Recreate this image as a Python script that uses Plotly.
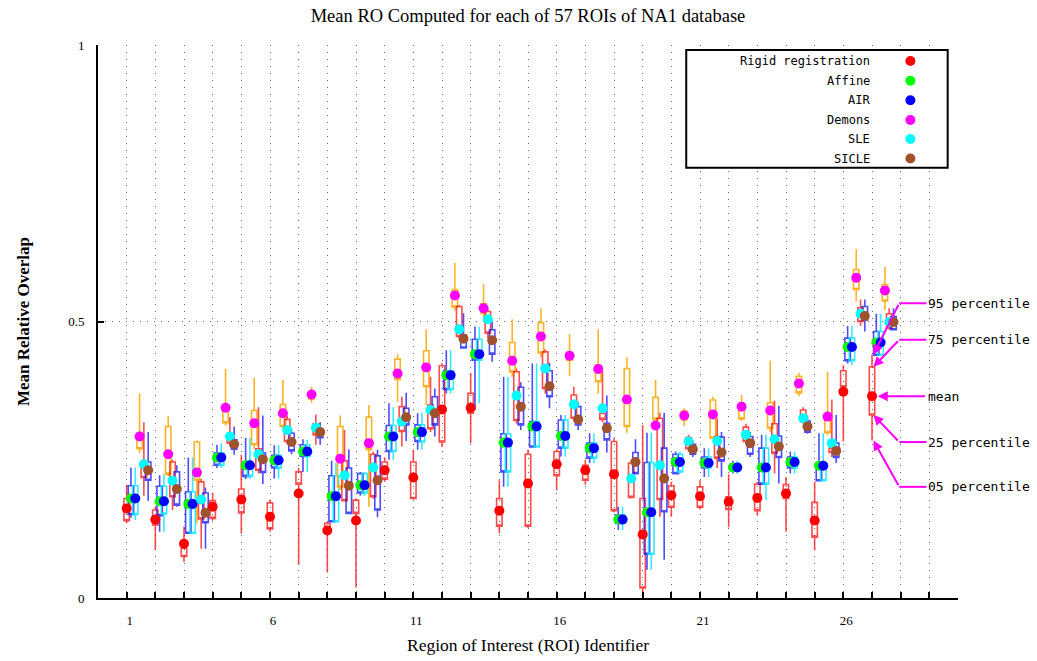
import plotly.graph_objects as go

rois = list(range(1, 28))
method_names = ["Rigid registration", "Affine", "AIR", "Demons", "SLE", "SICLE"]

# Rigid registration
rigid_mean = [0.162,0.142,0.098,0.165,0.178,0.147,0.189,0.122,0.140,0.231,0.218,0.341,0.344,0.158,0.207,0.242,0.231,0.224,0.115,0.186,0.184,0.174,0.181,0.189,0.140,0.373,0.365]
rigid_p05  = [0.135,0.087,0.065,0.140,0.116,0.120,0.060,0.046,0.019,0.210,0.178,0.273,0.280,0.117,0.126,0.195,0.205,0.155,0.003,0.147,0.160,0.128,0.149,0.120,0.087,0.283,0.285]
rigid_p25  = [0.140,0.132,0.075,0.144,0.154,0.125,0.206,0.124,0.153,0.215,0.180,0.282,0.334,0.130,0.130,0.221,0.213,0.158,0.018,0.164,0.164,0.160,0.158,0.180,0.110,0.382,0.331]
rigid_p75  = [0.180,0.159,0.090,0.176,0.197,0.172,0.228,0.135,0.177,0.246,0.246,0.420,0.370,0.180,0.260,0.265,0.240,0.283,0.180,0.203,0.201,0.183,0.206,0.205,0.173,0.411,0.418]
rigid_p95  = [0.205,0.165,0.129,0.190,0.259,0.178,0.235,0.138,0.180,0.254,0.268,0.425,0.407,0.213,0.268,0.270,0.250,0.289,0.313,0.210,0.213,0.224,0.210,0.219,0.210,0.421,0.440]

# Affine
affine_mean = [0.180,0.175,0.170,0.254,0.240,0.249,0.265,0.184,0.204,0.292,0.300,0.403,0.441,0.281,0.310,0.293,0.271,0.142,0.155,0.246,0.244,0.236,0.236,0.246,0.239,0.454,0.462]
affine_p05  = [0.145,0.120,0.117,0.235,0.215,0.216,0.228,0.138,0.185,0.250,0.268,0.370,0.340,0.201,0.273,0.256,0.244,0.123,0.051,0.225,0.219,0.225,0.206,0.225,0.212,0.424,0.439]
affine_p25  = [0.151,0.149,0.117,0.240,0.220,0.235,0.256,0.138,0.190,0.265,0.283,0.377,0.430,0.228,0.273,0.271,0.253,0.135,0.079,0.225,0.235,0.230,0.206,0.235,0.212,0.429,0.439]
affine_p75  = [0.203,0.202,0.192,0.262,0.246,0.258,0.277,0.221,0.225,0.312,0.313,0.411,0.468,0.297,0.319,0.322,0.280,0.150,0.245,0.260,0.255,0.242,0.271,0.255,0.244,0.470,0.482]
affine_p95  = [0.236,0.222,0.254,0.277,0.290,0.276,0.287,0.248,0.228,0.352,0.334,0.448,0.491,0.400,0.424,0.331,0.298,0.165,0.299,0.265,0.271,0.248,0.295,0.265,0.298,0.492,0.514]

# AIR
air_mean = [0.180,0.175,0.170,0.254,0.240,0.249,0.265,0.184,0.204,0.292,0.300,0.403,0.441,0.281,0.310,0.293,0.271,0.142,0.155,0.246,0.244,0.236,0.236,0.246,0.239,0.454,0.462]
air_p05  = [0.141,0.120,0.117,0.235,0.215,0.216,0.228,0.138,0.185,0.250,0.268,0.370,0.352,0.201,0.273,0.256,0.244,0.123,0.051,0.225,0.219,0.225,0.177,0.225,0.212,0.421,0.439]
air_p25  = [0.151,0.152,0.117,0.240,0.220,0.235,0.256,0.138,0.190,0.265,0.282,0.377,0.430,0.228,0.273,0.271,0.253,0.135,0.079,0.228,0.235,0.230,0.206,0.235,0.212,0.429,0.439]
air_p75  = [0.203,0.202,0.192,0.262,0.246,0.258,0.277,0.221,0.225,0.312,0.313,0.411,0.468,0.297,0.319,0.322,0.280,0.150,0.245,0.260,0.255,0.242,0.271,0.255,0.244,0.470,0.482]
air_p95  = [0.236,0.224,0.254,0.280,0.290,0.276,0.286,0.244,0.228,0.345,0.335,0.448,0.490,0.400,0.424,0.331,0.298,0.165,0.299,0.265,0.271,0.248,0.295,0.265,0.298,0.492,0.514]

# Demons
demons_mean = [0.292,0.260,0.227,0.344,0.316,0.334,0.368,0.252,0.280,0.406,0.417,0.547,0.524,0.429,0.473,0.438,0.414,0.359,0.312,0.330,0.332,0.346,0.339,0.388,0.328,0.579,0.556]
demons_p05  = [0.262,0.220,0.135,0.312,0.270,0.305,0.353,0.195,0.165,0.355,0.349,0.520,0.505,0.400,0.435,0.401,0.370,0.299,0.312,0.311,0.289,0.320,0.300,0.365,0.295,0.536,0.521]
demons_p25  = [0.270,0.224,0.213,0.317,0.277,0.310,0.360,0.201,0.268,0.395,0.382,0.526,0.515,0.409,0.443,0.430,0.391,0.310,0.323,0.322,0.289,0.324,0.307,0.371,0.299,0.558,0.537]
demons_p75  = [0.287,0.310,0.282,0.339,0.339,0.350,0.372,0.310,0.327,0.432,0.447,0.558,0.532,0.462,0.498,0.444,0.421,0.415,0.363,0.338,0.358,0.346,0.353,0.401,0.323,0.594,0.567]
demons_p95  = [0.370,0.329,0.285,0.414,0.398,0.394,0.382,0.330,0.349,0.441,0.486,0.606,0.568,0.504,0.524,0.477,0.486,0.435,0.394,0.343,0.364,0.367,0.429,0.407,0.409,0.631,0.599]

# SLE
sle_mean = [0.242,0.212,0.178,0.292,0.260,0.304,0.308,0.222,0.236,0.319,0.340,0.486,0.504,0.366,0.415,0.350,0.343,0.216,0.240,0.283,0.284,0.295,0.287,0.325,0.280,0.514,0.499]
sle_p05  = [0.185,0.159,0.089,0.275,0.225,0.278,0.277,0.176,0.180,0.274,0.300,0.470,0.470,0.315,0.370,0.320,0.318,0.180,0.147,0.265,0.235,0.278,0.225,0.315,0.255,0.492,0.485]
sle_p25  = [0.218,0.183,0.143,0.280,0.231,0.283,0.295,0.176,0.183,0.301,0.306,0.473,0.479,0.321,0.379,0.325,0.323,0.182,0.178,0.270,0.253,0.283,0.262,0.319,0.263,0.500,0.488]
sle_p75  = [0.246,0.246,0.210,0.295,0.270,0.323,0.315,0.248,0.260,0.346,0.349,0.527,0.518,0.409,0.445,0.367,0.334,0.244,0.325,0.290,0.292,0.309,0.315,0.340,0.271,0.525,0.514]
sle_p95  = [0.318,0.250,0.215,0.327,0.345,0.330,0.332,0.304,0.265,0.364,0.400,0.530,0.522,0.415,0.450,0.382,0.410,0.250,0.335,0.295,0.325,0.315,0.357,0.345,0.359,0.540,0.524]

# SICLE
sicle_mean = [0.231,0.197,0.154,0.278,0.251,0.282,0.300,0.203,0.213,0.327,0.334,0.469,0.466,0.346,0.383,0.323,0.307,0.246,0.216,0.269,0.263,0.280,0.274,0.310,0.266,0.510,0.499]
sicle_p05  = [0.176,0.165,0.089,0.259,0.206,0.260,0.277,0.153,0.146,0.284,0.292,0.452,0.427,0.304,0.343,0.304,0.263,0.225,0.069,0.255,0.219,0.255,0.207,0.297,0.244,0.482,0.485]
sicle_p25  = [0.213,0.168,0.136,0.269,0.227,0.266,0.290,0.153,0.159,0.313,0.313,0.452,0.441,0.313,0.364,0.313,0.286,0.225,0.156,0.260,0.248,0.260,0.254,0.300,0.254,0.503,0.485]
sicle_p75  = [0.246,0.228,0.190,0.286,0.262,0.298,0.305,0.235,0.257,0.343,0.364,0.476,0.485,0.381,0.411,0.346,0.316,0.263,0.271,0.278,0.291,0.292,0.293,0.320,0.280,0.527,0.509]
sicle_p95  = [0.300,0.240,0.200,0.310,0.330,0.305,0.318,0.269,0.268,0.371,0.379,0.515,0.500,0.390,0.425,0.355,0.366,0.287,0.335,0.285,0.300,0.300,0.347,0.330,0.331,0.540,0.524]

x_tick_labels = ["1", "6", "11", "16", "21", "26"]
y_tick_labels = ["0", "0.5", "1"]

series = [
    (rigid_mean, rigid_p05, rigid_p25, rigid_p75, rigid_p95),
    (affine_mean, affine_p05, affine_p25, affine_p75, affine_p95),
    (air_mean, air_p05, air_p25, air_p75, air_p95),
    (demons_mean, demons_p05, demons_p25, demons_p75, demons_p95),
    (sle_mean, sle_p05, sle_p25, sle_p75, sle_p95),
    (sicle_mean, sicle_p05, sicle_p25, sicle_p75, sicle_p95),
]

dot_colors = ["#ff0000", "#00ff00", "#0000ff", "#ff00ff", "#00ffff", "#a0522d"]
box_colors = ["rgba(255,0,0,0.7)", "rgba(0,0,255,0.7)", "rgba(0,230,255,0.8)",
              "rgba(255,165,0,0.85)", "rgba(255,0,0,0.7)", "rgba(0,0,255,0.7)"]
offsets = [0.0, 0.15, 0.30, 0.45, 0.60, 0.75]

fig = go.Figure()

for i, (mean, p05, p25, p75, p95) in enumerate(series):
    xs = [r + offsets[i] for r in rois]
    fig.add_trace(go.Box(
        x=xs, q1=p25, median=p25, q3=p75, lowerfence=p05, upperfence=p95,
        width=0.19, whiskerwidth=0, boxpoints=False,
        line=dict(color=box_colors[i], width=1.6),
        fillcolor="rgba(0,0,0,0)", showlegend=False, hoverinfo="skip",
    ))

for i, (mean, p05, p25, p75, p95) in enumerate(series):
    xs = [r + offsets[i] for r in rois]
    fig.add_trace(go.Scatter(
        x=xs, y=mean, mode="markers", name=method_names[i],
        marker=dict(color=dot_colors[i], size=10, line=dict(width=0)),
        showlegend=False,
    ))

# legend box (drawn manually: text right-aligned, dot on the right)
shapes = [dict(type="rect", xref="paper", yref="paper", x0=0.684, x1=0.988, y0=0.778, y1=0.991,
               line=dict(color="black", width=2), fillcolor="white", layer="above")]
annotations = []
leg_rows = [61, 80.7, 100.3, 120, 139, 158.5]
for i, name in enumerate(method_names):
    yp = (598 - leg_rows[i]) / 553
    annotations.append(dict(xref="paper", yref="paper", x=0.9005, y=yp, xanchor="right", yanchor="middle",
                            text=name, showarrow=False,
                            font=dict(family="DejaVu Sans Mono", size=12, color="black")))
    shapes.append(dict(type="circle", xref="paper", yref="paper", xsizemode="pixel", ysizemode="pixel",
                       xanchor=(911 - 98.6) / 860, yanchor=yp, x0=-5, x1=5, y0=-5, y1=5,
                       fillcolor=dot_colors[i], line=dict(width=0), layer="above"))

# percentile explanation for ROI 27 rigid registration box
k = 26
mag = "#ff00ff"
lab_font = dict(family="DejaVu Sans Mono", size=13, color="black")
bend_x = 27.95
text_x = 28.9
labels = [("95 percentile", 0.533, rigid_p95[k]),
          ("75 percentile", 0.467, rigid_p75[k]),
          ("25 percentile", 0.282, rigid_p25[k]),
          ("05 percentile", 0.201, rigid_p05[k])]
for txt, ylab, target in labels:
    annotations.append(dict(x=text_x, y=ylab, xref="x", yref="y", text=txt, showarrow=False,
                            xanchor="left", yanchor="middle", font=lab_font))
    shapes.append(dict(type="line", xref="x", yref="y", x0=bend_x, x1=text_x, y0=ylab, y1=ylab,
                       line=dict(color=mag, width=2)))
    annotations.append(dict(x=27.05, y=target, xref="x", yref="y", ax=bend_x, ay=ylab,
                            axref="x", ayref="y", text="", showarrow=True, arrowhead=2,
                            arrowsize=1, arrowwidth=2, arrowcolor=mag))
annotations.append(dict(x=text_x, y=rigid_mean[k], xref="x", yref="y", text="mean", showarrow=False,
                        xanchor="left", yanchor="middle", font=lab_font))
annotations.append(dict(x=27.2, y=rigid_mean[k], xref="x", yref="y", ax=text_x, ay=rigid_mean[k],
                        axref="x", ayref="y", text="", showarrow=True, arrowhead=2,
                        arrowsize=1, arrowwidth=2, arrowcolor=mag))

tickvals_x = list(range(1, 31))
ticktext_x = [x_tick_labels[(v - 1) // 5] if (v - 1) % 5 == 0 and (v - 1) // 5 < len(x_tick_labels) else "" for v in tickvals_x]

fig.update_layout(
    width=1037, height=661,
    margin=dict(l=98, r=79, t=45, b=63),
    paper_bgcolor="white", plot_bgcolor="white",
    title=dict(text="Mean RO Computed for each of 57 ROIs of NA1 database", x=0.5, xref="paper",
               y=1 - 16 / 661, yref="container", xanchor="center", yanchor="middle",
               font=dict(family="Liberation Serif", size=18.5, color="black")),
    boxmode="overlay",
    shapes=shapes, annotations=annotations,
    xaxis=dict(range=[0, 30], tickvals=tickvals_x, ticktext=ticktext_x, ticks="inside", ticklen=6,
               tickwidth=2, tickcolor="black", showline=True, linecolor="black", linewidth=2,
               showgrid=True, gridcolor="#666", griddash="1px,6px", gridwidth=1, zeroline=False,
               ticklabelstandoff=9, ticklabelshift=3, automargin=False,
               tickfont=dict(family="Liberation Serif", size=13, color="black"),
               title=dict(text="Region of Interest (ROI) Identifier", standoff=12,
                          font=dict(family="Liberation Serif", size=17.5, color="black"))),
    yaxis=dict(range=[0, 1], tickvals=[0, 0.5, 1], ticktext=y_tick_labels, ticks="inside", ticklen=6,
               tickwidth=2, tickcolor="black", showline=True, linecolor="black", linewidth=2,
               showgrid=True, gridcolor="#666", griddash="1px,6px", gridwidth=1, zeroline=False,
               ticklabelstandoff=9, automargin=False,
               tickfont=dict(family="Liberation Serif", size=13, color="black"),
               title=dict(text="<b>Mean Relative Overlap</b>", standoff=34,
                          font=dict(family="Liberation Serif", size=17, color="black"))),
)

fig.write_html("out.html")
